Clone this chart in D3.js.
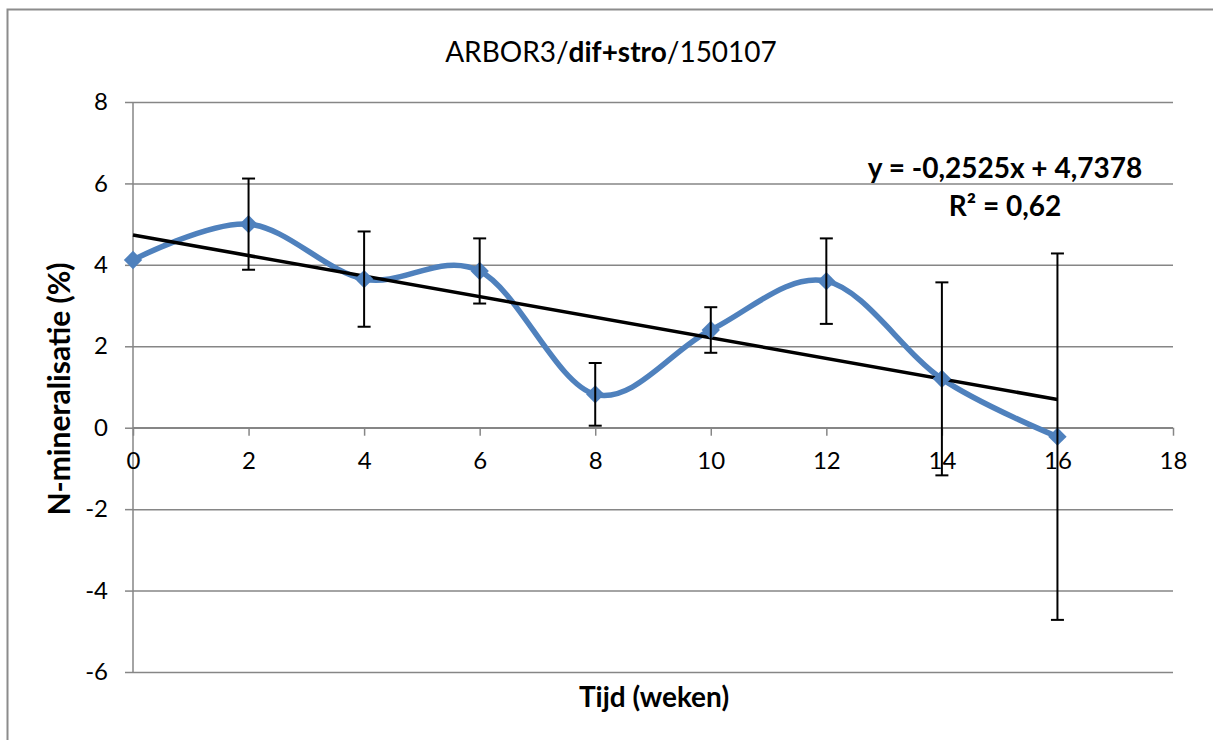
<!DOCTYPE html>
<html><head><meta charset="utf-8">
<script src="https://cdn.jsdelivr.net/npm/d3@7"></script>
<style>html,body{margin:0;padding:0;background:#fff;overflow:hidden}</style>
</head><body>
<svg id="c" width="1213" height="740"></svg>
<script>
const weeks = [0, 2, 4, 6, 8, 10, 12, 14, 16];
const nMin = [4.12, 5.0, 3.65, 3.85, 0.82, 2.4, 3.6, 1.2, -0.22];
const errs = [0, 1.12, 1.17, 0.8, 0.77, 0.56, 1.05, 2.37, 4.5];
const xTicks = [0, 2, 4, 6, 8, 10, 12, 14, 16, 18];
const yTicks = [-6, -4, -2, 0, 2, 4, 6, 8];
const eqText = "y = -0,2525x + 4,7378";
const r2Text = "R² = 0,62";

const font = "Lato, 'Open Sans', sans-serif";
const svg = d3.select("#c");
const W = 1213, H = 740;
const L = 133, R = 1173, T = 102, B = 672;
const x = d3.scaleLinear().domain([0, 18]).range([L, R]);
const y = d3.scaleLinear().domain([-6, 8]).range([B, T]);
const grey = "#868686";

// outer border
svg.append("path").attr("d", `M7.5,${H+5}V9.5H${W+5}`).attr("fill","none").attr("stroke","#8c8c8c").attr("stroke-width",2);

// gridlines + y axis
const gy = svg.append("g").attr("transform", `translate(${L},0)`)
  .call(d3.axisLeft(y).tickValues(yTicks).tickSize(8).tickPadding(17).tickFormat(d3.format("d")));
gy.select(".domain").attr("stroke", grey).attr("stroke-width", 1.5).attr("d", `M0,${T}V${B}`);
gy.selectAll(".tick line").attr("stroke", grey).attr("stroke-width", 1.5);
gy.selectAll(".tick").append("line").attr("x1", 0).attr("x2", R - L).attr("stroke", grey).attr("stroke-width", 1.5);
gy.selectAll("text").attr("font-family", font).attr("font-size", 24).attr("fill", "#000").text(d => d < 0 ? "-" + Math.abs(d) : d);

// x axis at y=0
const gx = svg.append("g").attr("transform", `translate(0,${y(0)})`)
  .call(d3.axisBottom(x).tickValues(xTicks).tickSize(8).tickPadding(16).tickFormat(d3.format("d")));
gx.select(".domain").attr("stroke", grey).attr("stroke-width", 1.5).attr("d", `M${L},0H${R}`);
gx.selectAll(".tick line").attr("stroke", grey).attr("stroke-width", 1.5);
gx.selectAll("text").attr("font-family", font).attr("font-size", 24).attr("fill", "#000");

// smoothed series line
const line = d3.line().x((d, i) => x(weeks[i])).y(d => y(d)).curve(d3.curveCatmullRom.alpha(0));
svg.append("path").datum(nMin).attr("d", line).attr("fill", "none")
  .attr("stroke", "#4F81BD").attr("stroke-width", 5.5).attr("stroke-linejoin", "round");

// trendline via least squares
const mx = d3.mean(weeks), my = d3.mean(nMin);
const slope = d3.sum(weeks, (w, i) => (w - mx) * (nMin[i] - my)) / d3.sum(weeks, w => (w - mx) ** 2);
const icpt = my - slope * mx;
const x0 = d3.min(weeks), x1 = d3.max(weeks);
svg.append("line").attr("x1", x(x0)).attr("y1", y(icpt + slope * x0))
  .attr("x2", x(x1)).attr("y2", y(icpt + slope * x1))
  .attr("stroke", "#000").attr("stroke-width", 3.5);

// markers
const diamond = d3.symbol().type(d3.symbolDiamond2).size(215);
svg.append("g").selectAll("path").data(nMin).join("path")
  .attr("d", diamond).attr("transform", (d, i) => `translate(${x(weeks[i])},${y(d)})`)
  .attr("fill", "#4F81BD");

// error bars
const eb = svg.append("g").attr("stroke", "#000").attr("stroke-width", 2);
weeks.forEach((w, i) => {
  if (!errs[i]) return;
  const cx = x(w), ya = y(nMin[i] + errs[i]), yb = y(nMin[i] - errs[i]);
  eb.append("line").attr("x1", cx).attr("x2", cx).attr("y1", ya).attr("y2", yb);
  eb.append("line").attr("x1", cx - 6.5).attr("x2", cx + 6.5).attr("y1", ya).attr("y2", ya);
  eb.append("line").attr("x1", cx - 6.5).attr("x2", cx + 6.5).attr("y1", yb).attr("y2", yb);
});

// title
const t = svg.append("text").attr("x", 611).attr("y", 62).attr("text-anchor", "middle")
  .attr("font-family", font).attr("font-size", 28).attr("fill", "#000");
t.append("tspan").text("ARBOR3/");
t.append("tspan").attr("font-weight", "bold").text("dif+stro");
t.append("tspan").text("/150107");

// axis titles
svg.append("text").attr("x", 654).attr("y", 707).attr("text-anchor", "middle")
  .attr("font-family", font).attr("font-size", 28).attr("font-weight", "bold").text("Tijd (weken)");
svg.append("text").attr("transform", `translate(70,389) rotate(-90)`).attr("text-anchor", "middle")
  .attr("font-family", font).attr("font-size", 30).attr("font-weight", "bold").text("N-mineralisatie (%)");

// equation
svg.append("text").attr("x", 1005).attr("y", 178).attr("text-anchor", "middle")
  .attr("font-family", font).attr("font-size", 28).attr("font-weight", "bold").text(eqText);
svg.append("text").attr("x", 1005).attr("y", 216).attr("text-anchor", "middle")
  .attr("font-family", font).attr("font-size", 28).attr("font-weight", "bold").text(r2Text);
</script>
</body></html>
